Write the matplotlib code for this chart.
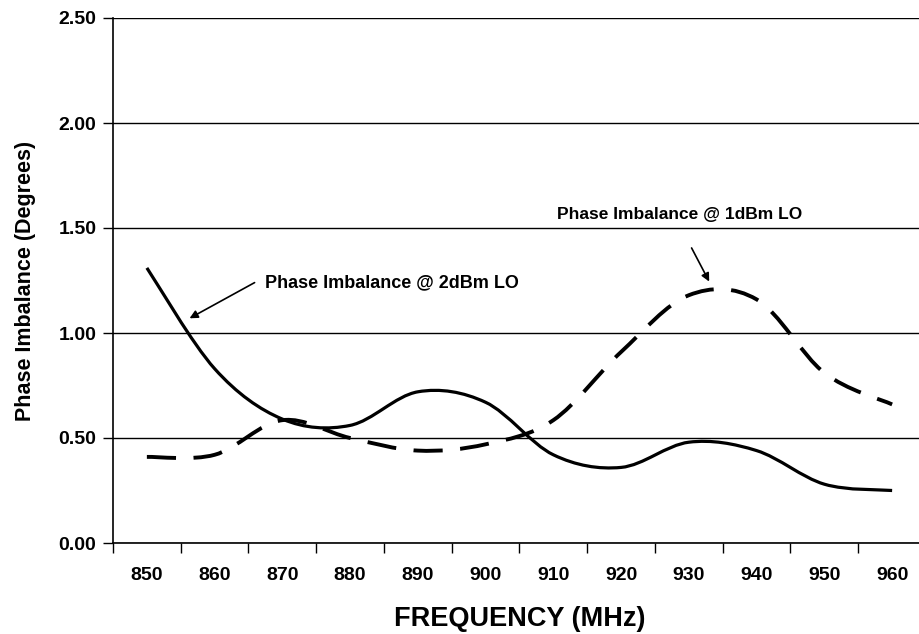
import matplotlib
matplotlib.use('Agg')
import matplotlib.pyplot as plt
from matplotlib.path import Path
from matplotlib.patches import PathPatch

plt.rcParams['font.family'] = ['Liberation Sans', 'DejaVu Sans']

freq = [850, 860, 870, 880, 890, 900, 910, 920, 930, 940, 950, 960]
phase_2dbm = [1.31, 0.83, 0.59, 0.56, 0.72, 0.67, 0.42, 0.36, 0.48, 0.44, 0.28, 0.25]
phase_1dbm = [0.41, 0.42, 0.585, 0.50, 0.44, 0.47, 0.585, 0.91, 1.18, 1.16, 0.81, 0.66]


def smooth_path(xs, ys):
    # Excel style smoothed line: cubic bezier through each point
    pts = list(zip(xs, ys))
    n = len(pts)
    verts = [pts[0]]
    codes = [Path.MOVETO]
    for i in range(n - 1):
        p0 = pts[max(i - 1, 0)]
        p1 = pts[i]
        p2 = pts[i + 1]
        p3 = pts[min(i + 2, n - 1)]
        c1 = (p1[0] + (p2[0] - p0[0]) / 6, p1[1] + (p2[1] - p0[1]) / 6)
        c2 = (p2[0] - (p3[0] - p1[0]) / 6, p2[1] - (p3[1] - p1[1]) / 6)
        verts += [c1, c2, p2]
        codes += [Path.CURVE4] * 3
    return Path(verts, codes)


fig = plt.figure(figsize=(9.2, 6.34), dpi=100, facecolor='white')
ax = fig.add_axes([113 / 920, 91 / 634, 813 / 920, 525 / 634])

idx = list(range(len(freq)))
ax.add_patch(PathPatch(smooth_path(idx, phase_2dbm), fill=False, lw=2.3,
                       ec='black', capstyle='butt', zorder=3))
ax.add_patch(PathPatch(smooth_path(idx, phase_1dbm), fill=False, lw=2.8,
                       ec='black', linestyle=(0, (7.5, 4.5)), capstyle='butt', zorder=3))

ax.set_xlim(-0.5, len(freq) - 0.5)
ax.set_ylim(0, 2.5)

ax.set_xticks([i - 0.5 for i in range(len(freq) + 1)])
ax.set_xticklabels([])
ax.set_xticks(idx, minor=True)
ax.set_xticklabels([str(f) for f in freq], minor=True, fontsize=14, fontweight='bold')
ax.tick_params(axis='x', which='minor', length=0, pad=17)
ax.tick_params(axis='x', which='major', length=7, width=1, direction='out')

yt = [0, 0.5, 1.0, 1.5, 2.0, 2.5]
ax.set_yticks(yt)
ax.set_yticklabels(['%.2f' % v for v in yt], fontsize=14, fontweight='bold')
ax.tick_params(axis='y', length=7, width=1, direction='out', pad=5)
ax.yaxis.grid(True, color='black', lw=1)
ax.set_axisbelow(True)

for s in ['top', 'right']:
    ax.spines[s].set_visible(False)
ax.spines['left'].set_linewidth(1.2)
ax.spines['bottom'].set_linewidth(1.2)

ax.set_xlabel('FREQUENCY (MHz)', fontsize=19.5, fontweight='bold', labelpad=16)
ax.set_ylabel('Phase Imbalance (Degrees)', fontsize=15.5, fontweight='bold', labelpad=16)

ax.annotate('', xy=(0.63, 1.07), xytext=(1.59, 1.24),
            arrowprops=dict(arrowstyle='-|>', color='black', lw=1.2, mutation_scale=12, shrinkA=0, shrinkB=0))
ax.text(1.75, 1.24, 'Phase Imbalance @ 2dBm LO', fontsize=13, fontweight='bold', va='center', ha='left')

ax.annotate('', xy=(8.30, 1.245), xytext=(8.04, 1.405),
            arrowprops=dict(arrowstyle='-|>', color='black', lw=1.2, mutation_scale=12, shrinkA=0, shrinkB=0))
ax.text(6.05, 1.565, 'Phase Imbalance @ 1dBm LO', fontsize=12.5, fontweight='bold', va='center', ha='left')

fig.savefig('out.png', dpi=100, facecolor='white')
